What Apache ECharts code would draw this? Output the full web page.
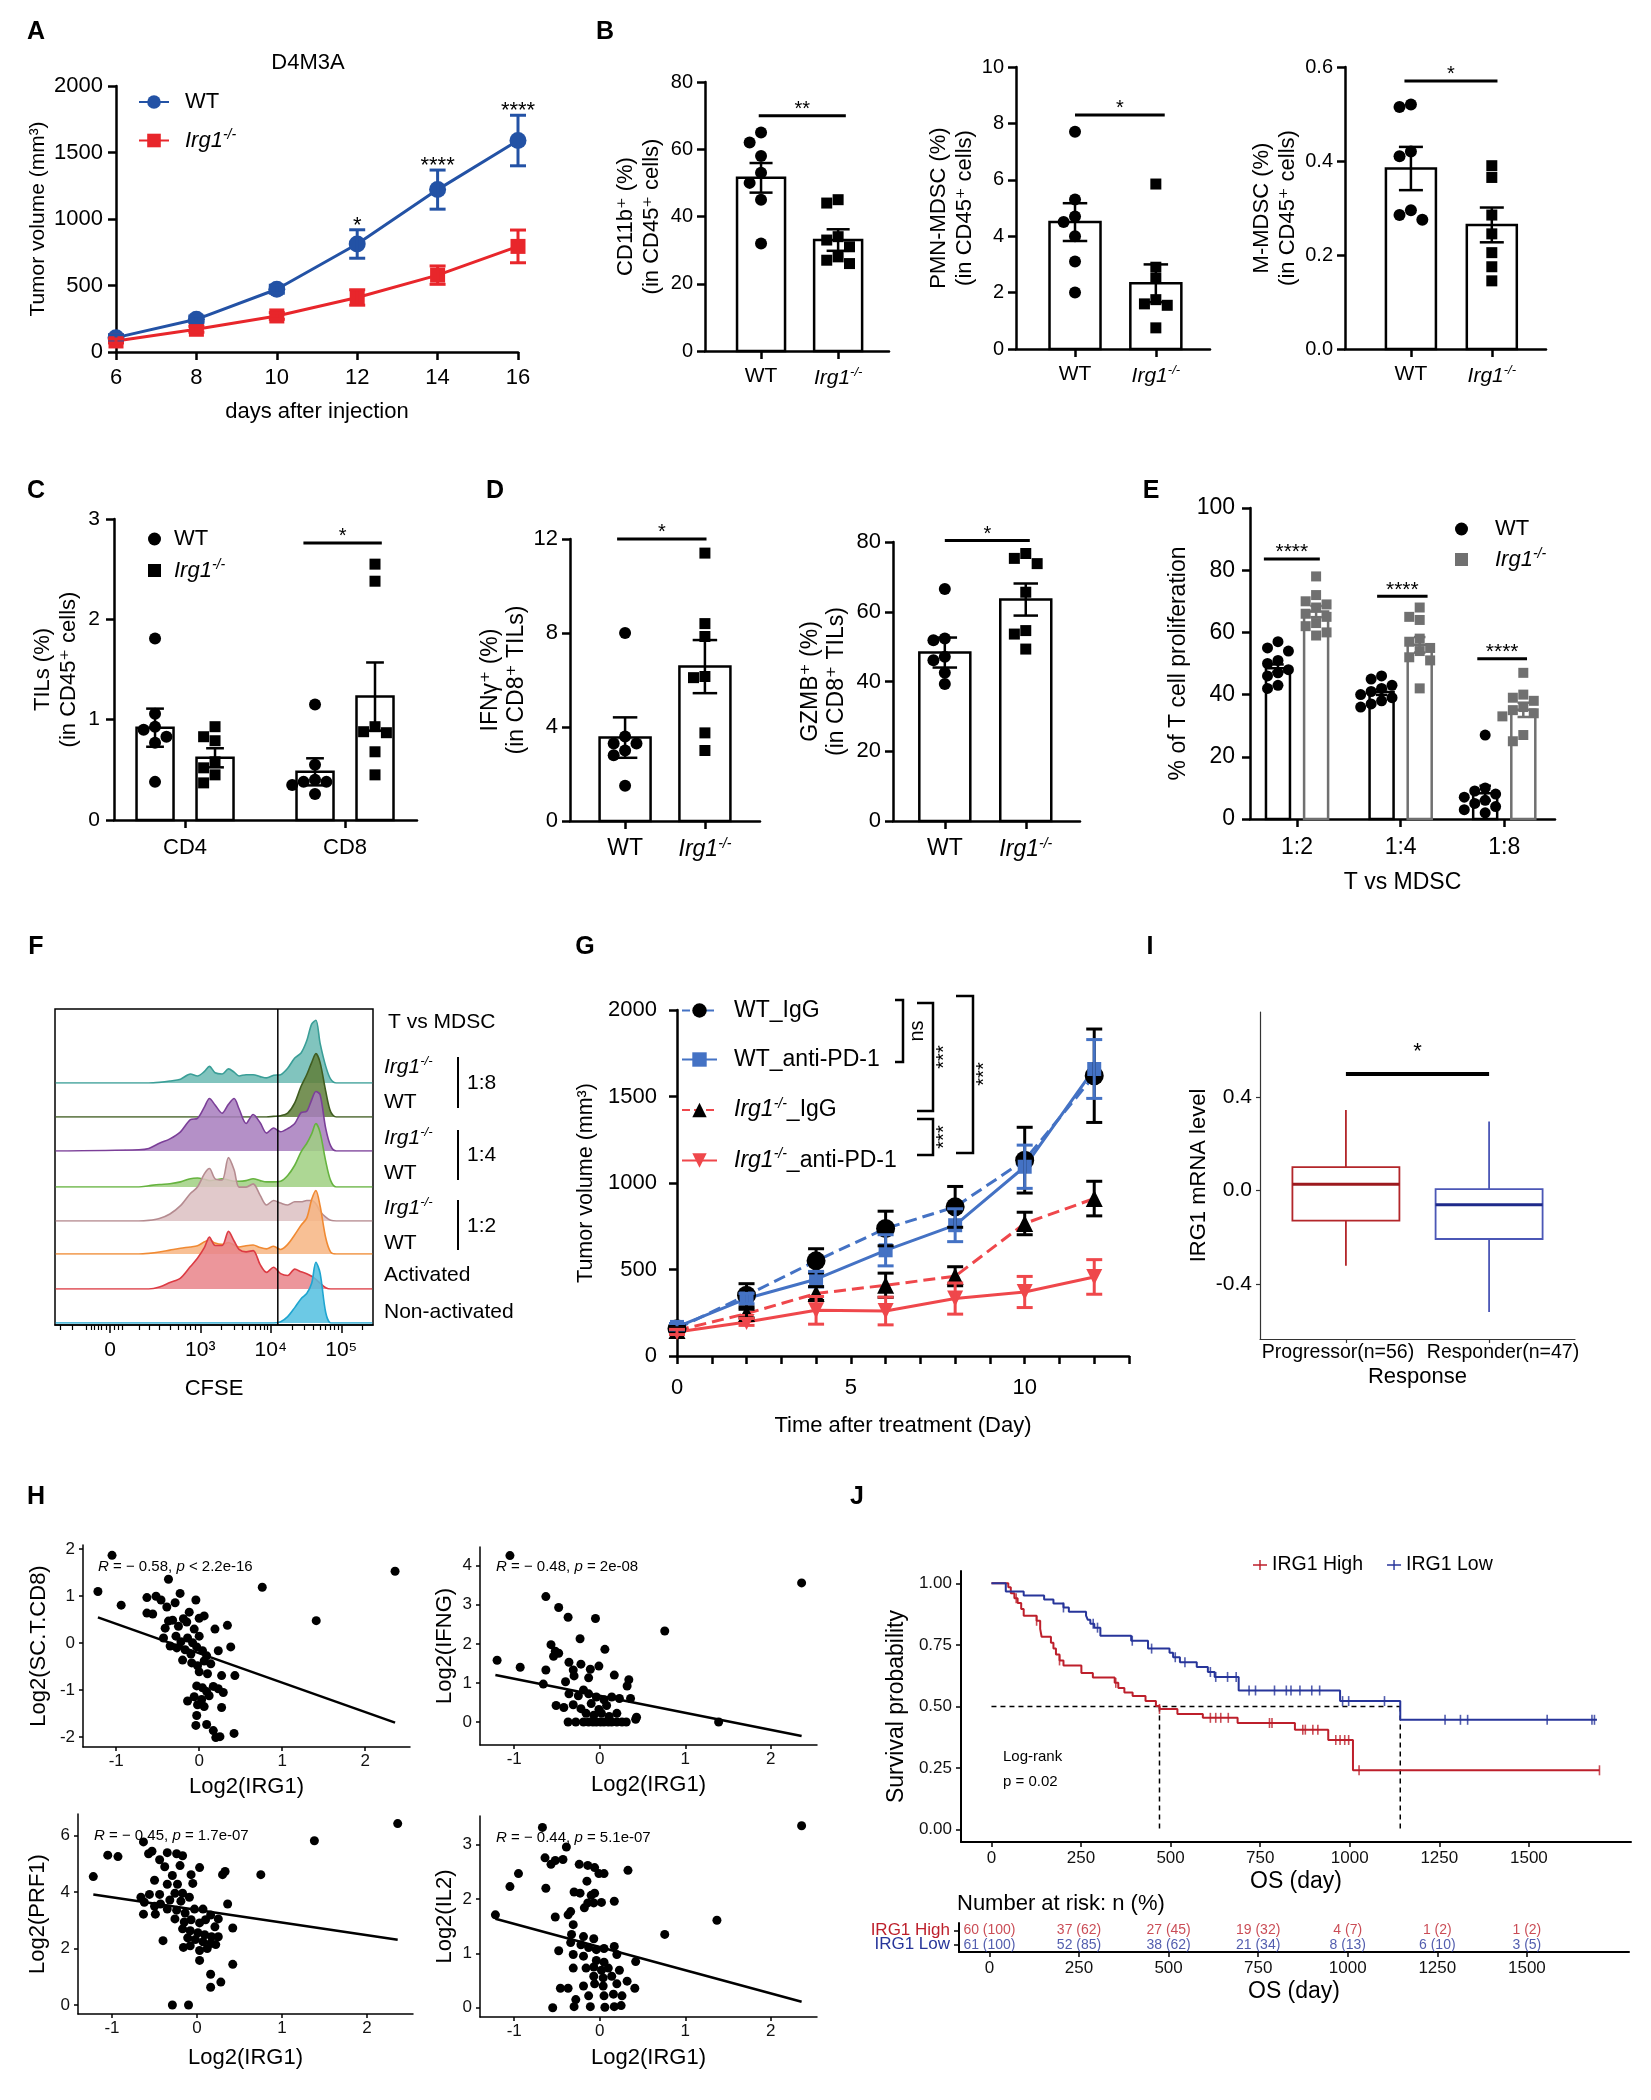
<!DOCTYPE html>
<html>
<head>
<meta charset="utf-8">
<title>IRG1 / MDSC figure</title>
<script src="https://cdn.jsdelivr.net/npm/echarts@6/dist/echarts.min.js"></script>
<style>
  html, body { margin: 0; padding: 0; background: #ffffff; }
  #fig { width: 1651px; height: 2100px; }
</style>
</head>
<body>
<div id="fig"></div>
<script>
// ================= values =================

// A  tumour growth D4M3A (mean, sem)
var daysA = [6, 8, 10, 12, 14, 16];
var wtA = [108, 246, 472, 812, 1221, 1590];
var wtSemA = [22, 25, 30, 107, 147, 190];
var koA = [83, 171, 271, 410, 578, 794];
var koSemA = [15, 22, 25, 58, 69, 123];
var starsA = ['', '', '', '*', '****', '****'];

// B  myeloid cells (in CD45+ cells)
var cd11bWT = [65, 62, 58, 53, 50, 45, 32];
var cd11bKO = [45, 44, 34, 33, 31, 28, 27, 26];
var cd11bMean = [51.5, 33.0];
var cd11bSem = [4.4, 3.2];
var pmnWT = [7.7, 5.3, 4.7, 4.5, 4.0, 3.1, 2.0];
var pmnKO = [5.85, 2.9, 2.5, 1.75, 1.6, 1.55, 0.75];
var pmnMean = [4.5, 2.33];
var pmnSem = [0.67, 0.67];
var mmdscWT = [0.52, 0.515, 0.42, 0.41, 0.295, 0.285, 0.275];
var mmdscKO = [0.39, 0.365, 0.285, 0.245, 0.205, 0.175, 0.145];
var mmdscMean = [0.384, 0.264];
var mmdscSem = [0.046, 0.037];

// C  TILs (in CD45+ cells)
var tilCats = ['CD4', 'CD8'];
var cd4WT = [1.81, 1.06, 0.93, 0.90, 0.83, 0.77, 0.38];
var cd4KO = [0.93, 0.83, 0.79, 0.58, 0.52, 0.45, 0.37];
var cd8WT = [1.15, 0.55, 0.40, 0.38, 0.38, 0.35, 0.26];
var cd8KO = [2.55, 2.38, 0.93, 0.88, 0.87, 0.68, 0.45];
var tilMean = [0.92, 0.62, 0.48, 1.23];
var tilSem = [0.19, 0.095, 0.135, 0.34];

// D  IFNg+ and GZMB+ (in CD8+ TILs)
var ifngWT = [8.0, 3.6, 3.3, 3.3, 3.0, 2.8, 1.5];
var ifngKO = [11.4, 8.4, 7.85, 6.15, 6.1, 3.75, 3.0];
var ifngMean = [3.55, 6.57];
var ifngSem = [0.86, 1.13];
var gzmbWT = [66.5, 52.3, 51.8, 47.1, 46.1, 42.5, 39.3];
var gzmbKO = [76.7, 75.3, 73.8, 65.6, 54.6, 53.6, 49.3];
var gzmbMean = [48.3, 63.5];
var gzmbSem = [4.3, 4.6];

// E  T cell proliferation, T vs MDSC
var ratiosE = ['1:2', '1:4', '1:8'];
var prolWT = [[57, 55, 54, 51, 50, 48, 47, 46, 43, 42],
              [46, 45, 43, 42, 41, 40, 39, 38, 37, 36],
              [27, 10, 9, 8, 7, 6, 5, 4, 3, 2]];
var prolKO = [[78, 72, 70, 69, 68, 66, 65, 63, 62, 60, 59],
              [68, 65, 64, 58, 57, 55, 54, 52, 51, 42],
              [47, 40, 39, 38, 36, 35, 34, 33, 27, 25]];
var prolMeanWT = [48.5, 40.8, 8.3];
var prolSemWT = [1.2, 0.9, 2.4];
var prolMeanKO = [66.7, 56.0, 35.1];
var prolSemKO = [1.8, 2.5, 2.3];

// F  CFSE histograms (x = display position in decades, y = % of mode)
var cfsePos = [0.95, 2.13, 2.27, 2.42, 2.57, 2.72, 2.86, 2.96, 3.06, 3.13, 3.21, 3.31, 3.40, 3.48, 3.55, 3.65,
               3.75, 3.85, 3.94, 4.04, 4.14, 4.24, 4.34, 4.43, 4.51, 4.58, 4.64, 4.70, 4.78, 4.85, 4.93, 5.44];
var histKO18 = [0, 0, 0, 1, 3, 6, 14, 11, 18, 26, 16, 14, 22, 17, 11, 13, 13, 10, 8, 12, 13, 23, 39, 47, 66, 92, 98, 62, 26, 6, 0, 0];
var histWT18 = [0, 0, 0, 0, 0, 0, 0, 0, 0, 0, 0, 0, 0, 0, 0, 0, 0, 0, 0, 1, 2, 6, 22, 48, 66, 85, 99, 85, 40, 8, 0, 0];
var histKO14 = [0, 2, 4, 12, 19, 30, 49, 51, 69, 82, 72, 59, 73, 82, 66, 43, 57, 44, 28, 36, 30, 35, 43, 60, 62, 80, 93, 88, 35, 8, 0, 0];
var histWT14 = [0, 0, 2, 4, 5, 8, 13, 14, 12, 10, 11, 13, 11, 9, 9, 10, 13, 10, 8, 8, 9, 18, 34, 55, 68, 83, 99, 85, 40, 10, 0, 0];
var histKO12 = [0, 0, 1, 4, 11, 24, 43, 53, 74, 82, 66, 64, 99, 80, 53, 53, 58, 40, 25, 32, 28, 25, 30, 30, 32, 32, 27, 15, 6, 1, 0, 0];
var histWT12 = [0, 0, 1, 3, 6, 9, 11, 13, 19, 22, 17, 15, 18, 14, 11, 13, 14, 10, 8, 12, 7, 15, 30, 45, 56, 85, 99, 75, 25, 3, 0, 0];
var histAct = [0, 0, 0, 3, 10, 17, 35, 48, 65, 81, 68, 68, 90, 75, 62, 58, 60, 38, 26, 34, 24, 21, 31, 27, 24, 20, 15, 9, 2, 0, 0, 0];
var histNon = [0, 0, 0, 0, 0, 0, 0, 0, 0, 0, 0, 0, 0, 0, 0, 0, 0, 0, 0, 0, 2, 10, 24, 38, 46, 62, 95, 78, 16, 0, 0, 0];
var cfseGate = 4.1;

// G  anti-PD-1 treatment
var daysG = [0, 2, 4, 6, 8, 10, 12];
var wtIgG = [158, 351, 550, 737, 862, 1132, 1620];
var wtIgGSem = [20, 67, 70, 100, 118, 190, 270];
var wtPD1 = [168, 332, 444, 611, 756, 1094, 1659];
var wtPD1Sem = [20, 30, 45, 90, 95, 125, 170];
var koIgG = [148, 245, 361, 409, 461, 766, 910];
var koIgGSem = [15, 25, 40, 70, 55, 65, 100];
var koPD1 = [139, 197, 264, 260, 332, 370, 457];
var koPD1Sem = [15, 20, 80, 80, 90, 90, 100];

// H  correlations with Log2(IRG1)
var hCd8 = [[-1.05,1.87],[-1.22,1.10],[-0.94,0.81],[-0.37,1.36],[2.36,1.53],[0.76,1.19],[1.41,0.48],[-0.63,0.97],
  [-0.52,1.0],[-0.46,0.92],[-0.63,0.64],[-0.56,0.62],[-0.39,0.77],[-0.29,0.86],[-0.23,1.06],[-0.04,0.92],[-0.12,0.66],
  [-0.37,0.47],[-0.32,0.49],[-0.41,0.32],[-0.25,0.36],[-0.19,0.52],[-0.15,0.45],[-0.06,0.30],[0.0,0.53],[0.06,0.58],
  [0.19,0.30],[0.34,0.38],[-0.43,0.11],[-0.28,0.15],[-0.22,0.03],[-0.14,0.11],[-0.08,0.01],[0.0,0.15],[-0.35,-0.06],
  [-0.27,-0.10],[-0.17,-0.14],[-0.10,-0.23],[-0.03,-0.08],[0.04,-0.16],[0.09,-0.27],[0.23,-0.16],[0.38,-0.08],
  [-0.20,-0.36],[-0.09,-0.42],[-0.02,-0.48],[0.06,-0.38],[0.14,-0.44],[0.0,-0.61],[0.10,-0.65],[0.27,-0.69],
  [0.43,-0.69],[-0.03,-0.91],[0.04,-0.95],[0.09,-1.03],[0.17,-0.92],[0.23,-0.97],[0.29,-1.05],[-0.06,-1.14],
  [-0.14,-1.23],[0.03,-1.20],[0.12,-1.12],[-0.02,-1.31],[0.06,-1.35],[0.27,-1.37],[-0.03,-1.54],[-0.04,-1.75],
  [0.09,-1.73],[0.17,-1.86],[0.20,-2.01],[0.25,-1.99],[0.42,-1.92]];
var hCd8Fit = [[-1.22, 0.55], [2.36, -1.69]];
var hIfng = [[-1.05,4.26],[2.36,3.56],[-0.63,3.21],[-0.48,2.93],[-0.37,2.68],[-0.05,2.65],[0.76,2.33],[-0.23,2.13],
  [-1.20,1.58],[-0.93,1.40],[-0.57,1.98],[-0.52,1.81],[-0.48,1.76],[-0.54,1.68],[0.06,1.86],[-0.63,1.33],[-0.36,1.53],
  [-0.22,1.48],[-0.31,1.33],[-0.11,1.35],[-0.01,1.43],[0.17,1.20],[0.34,1.08],[0.32,0.92],[-0.66,0.97],[-0.40,1.03],
  [-0.30,1.18],[-0.13,1.13],[-0.19,0.82],[-0.36,0.72],[-0.25,0.67],[-0.13,0.72],[-0.04,0.64],[0.05,0.57],[0.14,0.64],
  [0.23,0.60],[0.36,0.60],[-0.51,0.42],[-0.42,0.37],[-0.31,0.44],[-0.22,0.34],[-0.10,0.47],[-0.01,0.32],[0.08,0.42],
  [-0.16,0.22],[-0.07,0.17],[0.02,0.22],[0.11,0.14],[0.20,0.22],[0.43,0.12],[0.42,0.07],[-0.37,0],[-0.28,0],
  [-0.19,0],[-0.13,0],[-0.08,0],[-0.04,0],[0.01,0],[0.05,0],[0.10,0],[0.14,0],[0.20,0],[0.26,0],[0.31,0],[1.39,0]];
var hIfngFit = [[-1.22, 1.20], [2.36, -0.36]];
var hPrf1 = [[2.36,6.43],[1.38,5.82],[0.75,4.62],[-1.22,4.55],[-1.05,5.31],[-0.93,5.26],[-0.63,5.78],[-0.57,5.36],
  [-0.53,5.45],[-0.44,5.15],[-0.35,5.40],[-0.24,5.36],[-0.17,5.29],[-0.20,4.94],[-0.38,4.90],[-0.50,4.42],[-0.29,4.59],
  [-0.35,4.28],[-0.23,4.28],[-0.07,4.62],[0.03,4.87],[-0.05,4.31],[0.30,4.62],[0.33,4.73],[-0.09,3.82],[-0.17,3.96],
  [-0.26,3.96],[-0.44,3.92],[-0.56,3.92],[-0.66,3.82],[-0.32,3.72],[-0.43,3.58],[-0.50,3.50],[-0.62,3.64],[-0.19,3.68],
  [-0.35,3.40],[-0.24,3.36],[-0.14,3.26],[-0.03,3.40],[0.07,3.40],[0.16,3.19],[0.25,3.05],[0.36,3.58],[-0.63,3.22],
  [-0.49,3.22],[-0.26,3.05],[-0.15,2.94],[-0.07,3.02],[0.03,2.91],[0.10,3.02],[0.21,2.77],[0.42,2.73],[-0.17,2.70],
  [-0.08,2.63],[0.01,2.56],[0.09,2.49],[0.17,2.42],[0.25,2.42],[-0.11,2.38],[-0.02,2.32],[0.07,2.24],[0.16,2.18],
  [-0.40,2.28],[-0.16,2.04],[-0.08,2.10],[0.03,1.93],[0.12,2.00],[0.22,2.14],[0.03,1.58],[0.16,1.09],[0.28,0.81],
  [0.16,0.63],[0.42,1.44],[-0.29,0],[-0.10,0]];
var hPrf1Fit = [[-1.22, 3.92], [2.36, 2.31]];
var hIl2 = [[2.36,3.35],[-0.67,3.32],[-0.39,2.96],[-0.64,2.76],[-0.52,2.71],[-0.43,2.73],[-0.57,2.64],[-0.24,2.64],
  [-0.14,2.62],[-0.06,2.58],[-0.01,2.47],[0.05,2.47],[0.33,2.53],[-0.95,2.47],[-1.05,2.23],[-0.15,2.33],[-0.63,2.20],
  [-0.30,2.13],[-0.23,2.11],[-0.10,2.07],[-0.06,2.11],[-0.14,1.93],[-0.18,1.84],[-0.07,1.93],[0.02,1.94],[0.17,1.96],
  [-0.37,1.71],[-0.34,1.77],[-0.52,1.67],[1.37,1.61],[-1.22,1.71],[0.76,1.35],[-0.31,1.53],[-0.33,1.35],[-0.19,1.31],
  [-0.07,1.27],[-0.34,1.20],[-0.22,1.16],[-0.13,1.11],[-0.04,1.07],[0.05,1.09],[0.17,1.13],[-0.48,1.05],[-0.31,0.98],
  [-0.19,0.95],[0.20,0.98],[0.42,0.85],[-0.04,0.87],[0.05,0.84],[-0.31,0.73],[-0.16,0.73],[-0.07,0.75],[0.02,0.69],
  [0.10,0.73],[0.23,0.69],[-0.07,0.58],[0.04,0.55],[0.14,0.58],[0.32,0.49],[-0.19,0.40],[-0.06,0.44],[0.04,0.40],
  [0.20,0.44],[-0.46,0.36],[-0.37,0.36],[0.41,0.36],[-0.13,0.22],[0.05,0.22],[0.16,0.25],[0.26,0.22],[-0.28,0.15],
  [-0.55,0],[-0.30,0.02],[-0.11,0.02],[0.06,0.01],[0.17,0.02],[0.25,0.04]];
var hIl2Fit = [[-1.22, 1.64], [2.36, 0.11]];

// I  IRG1 mRNA by response: [min, Q1, median, Q3, max]
var responseCats = ['Progressor(n=56)', 'Responder(n=47)'];
var progressorBox = [-0.321, -0.129, 0.027, 0.0995, 0.344];
var responderBox = [-0.519, -0.207, -0.061, 0.006, 0.294];

// J  overall survival (Kaplan-Meier steps: [day, survival after the step])
var kmHigh = [[0,1],[47,0.984],[54,0.960],[64,0.939],[73,0.920],[83,0.896],[90,0.868],[126,0.848],[136,0.815],
  [140,0.783],[166,0.759],[173,0.735],[180,0.711],[190,0.687],[201,0.666],[251,0.636],[283,0.618],[344,0.596],
  [354,0.575],[371,0.557],[394,0.543],[430,0.522],[459,0.502],[469,0.490],[519,0.470],[590,0.454],[687,0.433],
  [847,0.406],[940,0.364],[1009,0.241],[1697,0.241]];
var kmLow = [[0,1],[40,0.967],[90,0.951],[147,0.934],[173,0.918],[201,0.902],[216,0.885],[264,0.869],[269,0.852],
  [276,0.836],[287,0.820],[304,0.787],[390,0.767],[437,0.735],[497,0.718],[507,0.700],[526,0.680],[573,0.660],
  [604,0.640],[623,0.620],[690,0.565],[973,0.522],[1141,0.446],[1690,0.446]];
var censHigh = [69, 126, 190, 347, 469, 611, 626, 640, 661, 776, 783, 869, 876, 897, 911, 961, 973, 986, 997, 1026, 1697];
var censLow = [201, 284, 296, 393, 447, 513, 540, 611, 626, 659, 683, 719, 737, 790, 823, 836, 861, 894, 916, 980, 997,
  1097, 1266, 1309, 1329, 1551, 1676, 1683];
var medianHigh = 469;
var medianLow = 1141;
var riskTimes = [0, 250, 500, 750, 1000, 1250, 1500];
var riskHigh = ['60 (100)', '37 (62)', '27 (45)', '19 (32)', '4 (7)', '1 (2)', '1 (2)'];
var riskLow = ['61 (100)', '52 (85)', '38 (62)', '21 (34)', '8 (13)', '6 (10)', '3 (5)'];

// ================= helpers =================
var FONT = "'Liberation Sans', Arial, 'DejaVu Sans', sans-serif";
var KO = '{i|Irg1}{s|-/-}';
var grids = [], xAxes = [], yAxes = [], series = [], legends = [], graphics = [];

function koRich(size) {
  return {
    i: {fontStyle: 'italic', fontSize: size, fontFamily: FONT, color: '#000', lineHeight: size + 3},
    s: {fontStyle: 'italic', fontSize: Math.round(size * 0.62), fontFamily: FONT, color: '#000', verticalAlign: 'top', lineHeight: size + 3}
  };
}
function merge(a, b) {
  var out = {};
  [a, b].forEach(function (src) {
    if (!src) return;
    Object.keys(src).forEach(function (k) {
      var v = src[k];
      if (v && typeof v === 'object' && !Array.isArray(v) && out[k] && typeof out[k] === 'object' && !Array.isArray(out[k])) {
        out[k] = merge(out[k], v);
      } else {
        out[k] = v;
      }
    });
  });
  return out;
}
function zip(xs, ys) { return xs.map(function (x, i) { return [x, ys[i]]; }); }
function plain(v) { return String(v); }   // no thousands separator

// GraphPad look
function gpAxis(o) {
  return merge({
    type: 'value', splitLine: {show: false},
    axisLine: {show: true, onZero: false, lineStyle: {color: '#000', width: 2.5}},
    axisTick: {show: true, length: 8, lineStyle: {color: '#000', width: 2.5}},
    axisLabel: {color: '#000', fontFamily: FONT, fontSize: 21, margin: 12, formatter: plain,
      hideOverlap: false, showMinLabel: true, showMaxLabel: true},
    nameLocation: 'middle',
    nameTextStyle: {color: '#000', fontFamily: FONT, fontSize: 21, lineHeight: 24}
  }, o);
}
// ggplot classic look
function ggAxis(o) {
  return merge({
    type: 'value', splitLine: {show: false},
    axisLine: {show: true, onZero: false, lineStyle: {color: '#000', width: 1.5}},
    axisTick: {show: true, length: 4, lineStyle: {color: '#000', width: 1.5}},
    axisLabel: {color: '#111', fontFamily: FONT, fontSize: 17, margin: 6, formatter: plain,
      hideOverlap: false, showMinLabel: true, showMaxLabel: true},
    nameLocation: 'middle',
    nameTextStyle: {color: '#000', fontFamily: FONT, fontSize: 22, lineHeight: 26}
  }, o);
}
function hidden(o) { return merge({type: 'value', show: false, splitLine: {show: false}}, o); }

function addGrid(l, t, w, h, xa, ya) {
  var gi = grids.length;
  grids.push({left: l, top: t, width: w, height: h, containLabel: false, outerBoundsMode: 'none'});
  xa.gridIndex = gi; ya.gridIndex = gi;
  xAxes.push(xa); yAxes.push(ya);
  return {g: gi, x: xAxes.length - 1, y: yAxes.length - 1};
}

function txtStyle(text, size, align, va, extra) {
  return merge({text: text, fontFamily: FONT, fontSize: size, fill: '#000',
    align: align, verticalAlign: va, textAlign: align, textVerticalAlign: va}, extra);
}
function gText(x, y, text, o) {
  o = o || {};
  graphics.push({type: 'text', x: x, y: y, rotation: o.rot || 0, z: 100, silent: true,
    style: txtStyle(text, o.size || 21, o.align || 'left', o.va || 'middle',
      {fontWeight: o.weight || 'normal', fill: o.color || '#000', rich: o.rich})});
}
function gLine(points, w) {
  graphics.push({type: 'polyline', z: 100, silent: true, shape: {points: points},
    style: {stroke: '#000', lineWidth: w || 2.5, fill: null}});
}

// beeswarm-like horizontal spreading of the dots in one column
function swarm(vals, cx, dx, tol) {
  var placed = [], out = new Array(vals.length);
  var order = vals.map(function (v, i) { return i; }).sort(function (a, b) { return vals[b] - vals[a]; });
  order.forEach(function (i) {
    var v = vals[i], offs = [0, -1, 1, -2, 2, -3, 3], x = cx;
    for (var k = 0; k < offs.length; k++) {
      var cand = cx + offs[k] * dx;
      var hit = placed.some(function (p) { return Math.abs(p[0] - cand) < dx * 0.99 && Math.abs(p[1] - v) < tol; });
      if (!hit) { x = cand; break; }
    }
    placed.push([x, v]);
    out[i] = [x, v];
  });
  return out;
}

function addBars(ax, items, bw, lw) {
  series.push({type: 'custom', xAxisIndex: ax.x, yAxisIndex: ax.y, z: 2, silent: true, clip: false,
    data: items.map(function (d) { return [d[0], d[1]]; }),
    renderItem: function (p, api) {
      var top = api.coord([api.value(0), api.value(1)]), base = api.coord([api.value(0), 0]);
      return {type: 'rect', shape: {x: top[0] - bw / 2, y: top[1], width: bw, height: base[1] - top[1]},
        style: {fill: '#fff', stroke: items[p.dataIndex][2], lineWidth: lw}};
    }});
}
// items: [x, low, high, colour]
function addErr(ax, items, cap, lw, z) {
  series.push({type: 'custom', xAxisIndex: ax.x, yAxisIndex: ax.y, z: z || 4, silent: true, clip: false,
    data: items.map(function (d) { return [d[0], d[1], d[2]]; }),
    renderItem: function (p, api) {
      var col = items[p.dataIndex][3];
      var hi = api.coord([api.value(0), api.value(2)]), lo = api.coord([api.value(0), api.value(1)]);
      var st = {stroke: col, lineWidth: lw};
      return {type: 'group', children: [
        {type: 'line', shape: {x1: hi[0], y1: hi[1], x2: lo[0], y2: lo[1]}, style: st},
        {type: 'line', shape: {x1: hi[0] - cap, y1: hi[1], x2: hi[0] + cap, y2: hi[1]}, style: st},
        {type: 'line', shape: {x1: lo[0] - cap, y1: lo[1], x2: lo[0] + cap, y2: lo[1]}, style: st}]};
    }});
}
// sigs: [x1, x2, y, text]
function addSig(ax, sigs, o) {
  series.push({type: 'custom', xAxisIndex: ax.x, yAxisIndex: ax.y, z: 5, silent: true, clip: false,
    data: sigs.map(function (s) { return [s[0], s[2], s[1]]; }),
    renderItem: function (p, api) {
      var a = api.coord([api.value(0), api.value(1)]), b = api.coord([api.value(2), api.value(1)]);
      return {type: 'group', children: [
        {type: 'line', shape: {x1: a[0], y1: a[1], x2: b[0], y2: b[1]}, style: {stroke: '#000', lineWidth: o.lw}},
        {type: 'text', x: (a[0] + b[0]) / 2, y: a[1] - o.off + 0.27 * o.size,
          style: txtStyle(sigs[p.dataIndex][3], o.size, 'center', 'middle')}]};
    }});
}

// bar + dots + sem panel
function dotBar(p) {
  var fs = p.fs || 21;
  var xa = gpAxis({min: p.xr[0], max: p.xr[1],
    axisTick: {customValues: p.ticks},
    axisLabel: {customValues: p.ticks, margin: p.xMargin || 15, fontSize: p.xfs || fs, rich: koRich(p.xfs || fs),
      formatter: function (v) { return p.tickText[p.ticks.indexOf(v)]; }},
    name: p.xName || '', nameGap: p.xGap || 50, nameTextStyle: {fontSize: p.nfs || 22, lineHeight: 26}});
  var ya = gpAxis({min: p.yr[0], max: p.yr[1], interval: p.yStep,
    axisLabel: {fontSize: fs, margin: p.yMargin || 12, formatter: p.yFmt || plain},
    name: p.yName, nameGap: p.yGap, nameTextStyle: {fontSize: p.nfs || 22, lineHeight: 26}});
  var ax = addGrid(p.box[0], p.box[1], p.box[2], p.box[3], xa, ya);
  var pxX = p.box[2] / (p.xr[1] - p.xr[0]), pxY = p.box[3] / (p.yr[1] - p.yr[0]);
  var bars = [], errs = [];
  p.groups.forEach(function (g) {
    bars.push([g.x, g.mean, g.color]);
    errs.push([g.x, g.mean - g.sem, g.mean + g.sem, g.color]);
    series.push({type: 'scatter', name: g.name, xAxisIndex: ax.x, yAxisIndex: ax.y, z: 3, silent: true,
      symbol: g.symbol, symbolSize: g.symbol === 'rect' ? p.dot - 1 : p.dot, itemStyle: {color: g.color, opacity: 1},
      data: swarm(g.vals, g.x, p.dot * 0.95 / pxX, p.dot * 0.9 / pxY)});
  });
  addBars(ax, bars, p.bw, 2.5);
  addErr(ax, errs, p.bw * 0.24, 2.5, 4);
  addSig(ax, p.sigs, {lw: 3, off: 12, size: p.sigSize || 20});
  return ax;
}
function pairGroups(wt, ko, means, sems) {
  return [
    {x: 1, vals: wt, mean: means[0], sem: sems[0], color: '#000', symbol: 'circle'},
    {x: 2, vals: ko, mean: means[1], sem: sems[1], color: '#000', symbol: 'rect'}];
}
var legendText = {
  A_WT: 'WT', A_KO: KO, C_WT: 'WT', C_KO: KO, E_WT: 'WT', E_KO: KO,
  G1: 'WT_IgG', G2: 'WT_anti-PD-1', G3: KO + '_IgG', G4: KO + '_anti-PD-1',
  J_H: 'IRG1 High', J_L: 'IRG1 Low'
};
function legendFmt(name) { return legendText[name]; }

// ================= A =================
var axA = addGrid(116, 86, 402, 266,
  gpAxis({min: 6, max: 16, interval: 2, axisLabel: {fontSize: 22, margin: 15},
    name: 'days after injection', nameGap: 48, nameTextStyle: {fontSize: 22}}),
  gpAxis({min: 0, max: 2000, interval: 500, axisLabel: {fontSize: 22, margin: 13},
    name: 'Tumor volume (mm³)', nameGap: 66}));
series.push({type: 'line', name: 'A_WT', xAxisIndex: axA.x, yAxisIndex: axA.y, z: 3, silent: true,
  data: zip(daysA, wtA), symbol: 'circle', symbolSize: 17,
  lineStyle: {color: '#2352a5', width: 3}, itemStyle: {color: '#2352a5'}});
series.push({type: 'line', name: 'A_KO', xAxisIndex: axA.x, yAxisIndex: axA.y, z: 3, silent: true,
  data: zip(daysA, koA), symbol: 'rect', symbolSize: 15,
  lineStyle: {color: '#e8262b', width: 3}, itemStyle: {color: '#e8262b'}});
addErr(axA, daysA.map(function (d, i) { return [d, wtA[i] - wtSemA[i], wtA[i] + wtSemA[i], '#2352a5']; }), 8, 3, 4);
addErr(axA, daysA.map(function (d, i) { return [d, koA[i] - koSemA[i], koA[i] + koSemA[i], '#e8262b']; }), 8, 3, 4);
(function () {
  var pts = [], txt = [];
  daysA.forEach(function (d, i) { if (starsA[i]) { pts.push([d, wtA[i] + wtSemA[i]]); txt.push(starsA[i]); } });
  series.push({type: 'custom', xAxisIndex: axA.x, yAxisIndex: axA.y, z: 5, silent: true, clip: false, data: pts,
    renderItem: function (p, api) {
      var c = api.coord([api.value(0), api.value(1)]);
      return {type: 'text', x: c[0], y: c[1] - 10 + 0.27 * 22, style: txtStyle(txt[p.dataIndex], 22, 'center', 'middle')};
    }});
})();
legends.push({left: 138, top: 91, orient: 'vertical', padding: 0, itemWidth: 30, itemHeight: 17, itemGap: 15,
  selectedMode: false, data: ['A_WT', 'A_KO'], formatter: legendFmt,
  textStyle: {fontFamily: FONT, fontSize: 22, color: '#000', padding: [0, 0, 0, 11], rich: koRich(22)}});
gText(308, 63, 'D4M3A', {size: 22, align: 'center'});

// ================= B =================
dotBar({box: [705, 82, 184, 269], xr: [0.273, 2.66], yr: [0, 80], yStep: 20, fs: 20, xfs: 21,
  ticks: [1, 2], tickText: ['WT', KO], yName: 'CD11b⁺ (%)\n(in CD45⁺ cells)', yGap: 40,
  groups: pairGroups(cd11bWT, cd11bKO, cd11bMean, cd11bSem), dot: 12, bw: 48,
  sigs: [[0.97, 2.1, 70, '**']]});
dotBar({box: [1016, 67, 194, 282], xr: [0.27, 2.67], yr: [0, 10], yStep: 2, fs: 20, xfs: 21,
  ticks: [1, 2], tickText: ['WT', KO], yName: 'PMN-MDSC (%)\n(in CD45⁺ cells)', yGap: 24,
  groups: pairGroups(pmnWT, pmnKO, pmnMean, pmnSem), dot: 12, bw: 51,
  sigs: [[1.0, 2.11, 8.3, '*']]});
dotBar({box: [1345, 67, 201, 282], xr: [0.185, 2.67], yr: [0, 0.6], yStep: 0.2, fs: 20, xfs: 21,
  yFmt: function (v) { return v.toFixed(1); },
  ticks: [1, 2], tickText: ['WT', KO], yName: 'M-MDSC (%)\n(in CD45⁺ cells)', yGap: 35,
  groups: pairGroups(mmdscWT, mmdscKO, mmdscMean, mmdscSem), dot: 12, bw: 50,
  sigs: [[0.92, 2.07, 0.57, '*']]});

// ================= C =================
dotBar({box: [114, 519, 303, 301], xr: [0.556, 2.45], yr: [0, 3], yStep: 1, fs: 21, xfs: 22,
  ticks: [1, 2], tickText: tilCats, xMargin: 17, yMargin: 14, yName: 'TILs (%)\n(in CD45⁺ cells)', yGap: 32,
  groups: [
    {x: 0.8125, vals: cd4WT, mean: tilMean[0], sem: tilSem[0], color: '#000', symbol: 'circle', name: 'C_WT'},
    {x: 1.1875, vals: cd4KO, mean: tilMean[1], sem: tilSem[1], color: '#000', symbol: 'rect', name: 'C_KO'},
    {x: 1.8125, vals: cd8WT, mean: tilMean[2], sem: tilSem[2], color: '#000', symbol: 'circle'},
    {x: 2.1875, vals: cd8KO, mean: tilMean[3], sem: tilSem[3], color: '#000', symbol: 'rect'}],
  dot: 12, bw: 37, sigs: [[1.74, 2.23, 2.76, '*']]});
legends.push({left: 148, top: 528, orient: 'vertical', padding: 0, itemWidth: 13, itemHeight: 13, itemGap: 8,
  selectedMode: false, data: ['C_WT', 'C_KO'], formatter: legendFmt,
  textStyle: {fontFamily: FONT, fontSize: 22, color: '#000', padding: [0, 0, 0, 8], rich: koRich(22)}});

// ================= D =================
dotBar({box: [570, 539, 190, 282], xr: [0.31, 2.69], yr: [0, 12], yStep: 4, fs: 22, xfs: 23, nfs: 23,
  ticks: [1, 2], tickText: ['WT', KO], xMargin: 16, yName: 'IFNγ⁺ (%)\n(in CD8⁺ TILs)', yGap: 36,
  groups: pairGroups(ifngWT, ifngKO, ifngMean, ifngSem), dot: 12, bw: 51,
  sigs: [[0.9, 2.02, 12.0, '*']]});
dotBar({box: [893, 542, 187, 279], xr: [0.36, 2.67], yr: [0, 80], yStep: 20, fs: 22, xfs: 23, nfs: 23,
  ticks: [1, 2], tickText: ['WT', KO], xMargin: 16, yName: 'GZMB⁺ (%)\n(in CD8⁺ TILs)', yGap: 43,
  groups: pairGroups(gzmbWT, gzmbKO, gzmbMean, gzmbSem), dot: 12, bw: 51,
  sigs: [[1.0, 2.05, 80.4, '*']]});

// ================= E =================
(function () {
  var groups = [];
  ratiosE.forEach(function (r, i) {
    groups.push({x: i + 1 - 0.184, vals: prolWT[i], mean: prolMeanWT[i], sem: prolSemWT[i], color: '#000',
      symbol: 'circle', name: i === 0 ? 'E_WT' : undefined});
    groups.push({x: i + 1 + 0.184, vals: prolKO[i], mean: prolMeanKO[i], sem: prolSemKO[i], color: '#707070',
      symbol: 'rect', name: i === 0 ? 'E_KO' : undefined});
  });
  dotBar({box: [1250, 508, 305, 311], xr: [0.546, 3.49], yr: [0, 100], yStep: 20, fs: 23, nfs: 23,
    ticks: [1, 2, 3], tickText: ratiosE, xMargin: 17, yMargin: 15,
    yName: '% of T cell proliferation', yGap: 58, xName: 'T vs MDSC', xGap: 51,
    groups: groups, dot: 11, bw: 24, sigSize: 21,
    sigs: [[0.68, 1.22, 83.6, '****'], [1.773, 2.26, 71.6, '****'], [2.74, 3.22, 51.5, '****']]});
})();
legends.push({left: 1455, top: 518, orient: 'vertical', padding: 0, itemWidth: 13, itemHeight: 13, itemGap: 7,
  selectedMode: false, data: ['E_WT', 'E_KO'], formatter: legendFmt,
  textStyle: {fontFamily: FONT, fontSize: 22, color: '#000', padding: [0, 0, 0, 22], rich: koRich(22)}});

// ================= F =================
(function () {
  var major = [1.72, 3, 4, 5], majorText = ['0', '10³', '10⁴', '10⁵'];
  var minor = [1.02, 1.19, 1.39, 1.45, 1.5, 1.55, 1.6, 1.66, 1.78, 1.84, 1.89, 2.13, 2.27, 2.42, 2.57, 2.69, 2.79, 2.86, 2.93];
  [3, 4].forEach(function (d) { for (var k = 2; k <= 9; k++) minor.push(d + Math.log10(k)); });
  minor.push(5 + Math.log10(2));
  var frame = addGrid(55, 1009, 318, 316,
    gpAxis({min: 0.94, max: 5.45, position: 'bottom',
      axisLine: {lineStyle: {width: 1.5}}, axisTick: {customValues: major, length: 8, lineStyle: {width: 1.5}},
      axisLabel: {customValues: major, margin: 15, fontSize: 21,
        formatter: function (v) { return majorText[major.indexOf(v)]; }},
      name: 'CFSE', nameGap: 51, nameTextStyle: {fontSize: 22, lineHeight: 26}}),
    hidden({min: 0, max: 1}));
  grids[frame.g].show = true;
  grids[frame.g].borderColor = '#000';
  grids[frame.g].borderWidth = 1.5;
  grids[frame.g].backgroundColor = 'rgba(0,0,0,0)';
  xAxes.push(gpAxis({gridIndex: frame.g, min: 0.94, max: 5.45, position: 'bottom', axisLine: {show: false},
    axisTick: {customValues: minor, length: 5, lineStyle: {width: 1.2}}, axisLabel: {show: false}}));

  var hists = [histKO18, histWT18, histKO14, histWT14, histKO12, histWT12, histAct, histNon];
  var lineCol = ['#3a9e97', '#3f5c20', '#7b3f98', '#66b33f', '#b58b90', '#f08a33', '#dc3b43', '#1fa5d0'];
  var fillCol = ['#6bbab3', '#5f7f3a', '#a77dbd', '#9fd081', '#dcc0c2', '#f7b582', '#e98489', '#52bfe0'];
  var base = [1083, 1117, 1151, 1187, 1221, 1254, 1289, 1323];
  hists.forEach(function (h, i) {
    var ax = addGrid(55, base[i] - 64, 318, 64, hidden({min: 0.94, max: 5.45}), hidden({min: 0, max: 100}));
    series.push({type: 'line', xAxisIndex: ax.x, yAxisIndex: ax.y, z: 2 + i * 0.1, silent: true,
      data: zip(cfsePos, h), smooth: 0.3, symbol: 'none',
      lineStyle: {color: lineCol[i], width: 1.6}, areaStyle: {color: fillCol[i], opacity: 0.85}});
  });
  series.push({type: 'line', xAxisIndex: frame.x, yAxisIndex: frame.y, z: 10, silent: true, symbol: 'none',
    data: [[cfseGate, 0], [cfseGate, 1]], lineStyle: {color: '#000', width: 1.5}});

  var rich = koRich(21);
  gText(388, 1022, 'T vs MDSC', {size: 21});
  [[1067, KO], [1102, 'WT'], [1138, KO], [1173, 'WT'], [1208, KO], [1243, 'WT'], [1275, 'Activated'], [1312, 'Non-activated']]
    .forEach(function (r) { gText(384, r[0], r[1], {size: 21, rich: rich}); });
  [[1057, 1108, 1083, '1:8'], [1130, 1180, 1155, '1:4'], [1200, 1250, 1226, '1:2']].forEach(function (b) {
    gLine([[458, b[0]], [458, b[1]]], 2);
    gText(467, b[2], b[3], {size: 21});
  });
})();

// ================= G =================
var axG = addGrid(677, 1010, 452, 346,
  gpAxis({min: 0, max: 13, interval: 1,
    axisLabel: {fontSize: 22, margin: 21, formatter: function (v) { return v % 5 === 0 ? String(v) : ''; }},
    name: 'Time after treatment (Day)', nameGap: 58, nameTextStyle: {fontSize: 22}}),
  gpAxis({min: 0, max: 2000, interval: 500, axisLabel: {fontSize: 22, margin: 20},
    name: 'Tumor volume (mm³)', nameGap: 79, nameTextStyle: {fontSize: 21.5}}));
(function () {
  var blue = '#4472c4', red = '#ef474b';
  var defs = [
    {name: 'G1', y: wtIgG, sem: wtIgGSem, line: blue, dash: 'dashed', mark: '#000', sym: 'circle', size: 19, err: '#000'},
    {name: 'G2', y: wtPD1, sem: wtPD1Sem, line: blue, dash: 'solid', mark: blue, sym: 'rect', size: 14, err: blue},
    {name: 'G3', y: koIgG, sem: koIgGSem, line: red, dash: 'dashed', mark: '#000', sym: 'triangle', size: 17, err: '#000'},
    {name: 'G4', y: koPD1, sem: koPD1Sem, line: red, dash: 'solid', mark: red, sym: 'triangle', size: 16, err: red, rot: 180}];
  defs.forEach(function (d) {
    series.push({type: 'line', name: d.name, xAxisIndex: axG.x, yAxisIndex: axG.y, z: 3, silent: true,
      data: zip(daysG, d.y), symbol: d.sym, symbolSize: d.size, symbolRotate: d.rot || 0,
      lineStyle: {color: d.line, width: 3, type: d.dash}, itemStyle: {color: d.mark}});
  });
  defs.forEach(function (d) {
    addErr(axG, daysG.map(function (t, i) { return [t, d.y[i] - d.sem[i], d.y[i] + d.sem[i], d.err]; }), 8, 3, 4);
  });
})();
legends.push({left: 681, top: 999, orient: 'vertical', padding: 0, itemWidth: 35, itemHeight: 18, itemGap: 26,
  selectedMode: false, data: ['G1', 'G2', 'G3', 'G4'], formatter: legendFmt,
  textStyle: {fontFamily: FONT, fontSize: 23, color: '#000', padding: [0, 0, 0, 12], rich: koRich(23)}});
gLine([[895, 1000], [903, 1000], [903, 1062], [895, 1062]]);
gText(917, 1031, 'ns', {size: 20, align: 'center', rot: Math.PI / 2});
gLine([[917, 1003], [933, 1003], [933, 1111], [917, 1111]]);
gText(944, 1057, '***', {size: 20, align: 'center', rot: Math.PI / 2});
gLine([[917, 1119], [933, 1119], [933, 1155], [917, 1155]]);
gText(944, 1137, '***', {size: 20, align: 'center', rot: Math.PI / 2});
gLine([[956, 996], [973, 996], [973, 1153], [956, 1153]]);
gText(984, 1074, '***', {size: 20, align: 'center', rot: Math.PI / 2});

// ================= I =================
var axI = addGrid(1260, 1012, 315, 327,
  ggAxis({min: 0.4, max: 2.6, axisLine: {lineStyle: {color: '#333', width: 1.2}},
    axisTick: {customValues: [1, 2], lineStyle: {color: '#333', width: 1.2}},
    axisLabel: {show: false},
    name: 'Response', nameGap: 25}),
  ggAxis({min: -0.634, max: 0.762, axisLine: {lineStyle: {color: '#333', width: 1.2}},
    axisTick: {customValues: [-0.4, 0, 0.4], lineStyle: {color: '#333', width: 1.2}},
    axisLabel: {customValues: [-0.4, 0, 0.4], fontSize: 21, margin: 8, color: '#000',
      formatter: function (v) { return v.toFixed(1); }},
    name: 'IRG1 mRNA level', nameGap: 44}));
// the two group names sit nudged apart under their ticks, as in the original
gText(1338, 1353, responseCats[0], {size: 19.5, align: 'center'});
gText(1503, 1353, responseCats[1], {size: 19.5, align: 'center'});
(function () {
  var boxCol = ['#b3262a', '#4b57b6'], medCol = ['#9c1a1e', '#1e2a8a'];
  series.push({type: 'custom', xAxisIndex: axI.x, yAxisIndex: axI.y, z: 3, silent: true,
    data: [[1].concat(progressorBox), [2].concat(responderBox)],
    renderItem: function (p, api) {
      var x = api.value(0), c = boxCol[p.dataIndex], hw = 53.5;
      var lo = api.coord([x, api.value(1)]), q1 = api.coord([x, api.value(2)]), md = api.coord([x, api.value(3)]),
        q3 = api.coord([x, api.value(4)]), hi = api.coord([x, api.value(5)]);
      var st = {stroke: c, lineWidth: 1.8, fill: null};
      return {type: 'group', children: [
        {type: 'line', shape: {x1: hi[0], y1: hi[1], x2: q3[0], y2: q3[1]}, style: st},
        {type: 'line', shape: {x1: lo[0], y1: lo[1], x2: q1[0], y2: q1[1]}, style: st},
        {type: 'rect', shape: {x: q3[0] - hw, y: q3[1], width: 2 * hw, height: q1[1] - q3[1]}, style: {stroke: c, lineWidth: 1.8, fill: '#fff'}},
        {type: 'line', shape: {x1: md[0] - hw, y1: md[1], x2: md[0] + hw, y2: md[1]}, style: {stroke: medCol[p.dataIndex], lineWidth: 3}}]};
    }});
  addSig(axI, [[1, 2, 0.497, '*']], {lw: 4, off: 28, size: 22});
})();

// ================= H =================
function hPanel(box, yr, yTicks, pts, fit, yName, yGap, xGap) {
  var ax = addGrid(box[0], box[1], box[2], box[3],
    ggAxis({min: -1.40, max: 2.54, axisTick: {customValues: [-1, 0, 1, 2]},
      axisLabel: {customValues: [-1, 0, 1, 2], margin: 6}, name: 'Log2(IRG1)', nameGap: xGap}),
    ggAxis({min: yr[0], max: yr[1], axisTick: {customValues: yTicks},
      axisLabel: {customValues: yTicks, margin: 8}, name: yName, nameGap: yGap}));
  series.push({type: 'scatter', xAxisIndex: ax.x, yAxisIndex: ax.y, z: 3, silent: true,
    data: pts, symbolSize: 9, itemStyle: {color: '#000', opacity: 1}});
  series.push({type: 'line', xAxisIndex: ax.x, yAxisIndex: ax.y, z: 4, silent: true,
    data: fit, symbol: 'none', lineStyle: {color: '#000', width: 2.5}});
}
hPanel([83, 1545, 327, 202], [-2.21, 2.09], [-2, -1, 0, 1, 2], hCd8, hCd8Fit, 'Log2(SC.T.CD8)', 31, 27);
hPanel([480, 1547, 337, 198], [-0.59, 4.48], [0, 1, 2, 3, 4], hIfng, hIfngFit, 'Log2(IFNG)', 22, 27);
hPanel([78, 1814, 335, 200], [-0.32, 6.77], [0, 2, 4, 6], hPrf1, hPrf1Fit, 'Log2(PRF1)', 27, 31);
hPanel([480, 1816, 337, 201], [-0.17, 3.53], [0, 1, 2, 3], hIl2, hIl2Fit, 'Log2(IL2)', 22, 28);
(function () {
  var rich = {it: {fontStyle: 'italic', fontSize: 15, fontFamily: FONT, color: '#000'}};
  gText(98, 1567, '{it|R} = − 0.58, {it|p} < 2.2e-16', {size: 15, rich: rich});
  gText(496, 1567, '{it|R} = − 0.48, {it|p} = 2e-08', {size: 15, rich: rich});
  gText(94, 1836, '{it|R} = − 0.45, {it|p} = 1.7e-07', {size: 15, rich: rich});
  gText(496, 1838, '{it|R} = − 0.44, {it|p} = 5.1e-07', {size: 15, rich: rich});
})();

// ================= J =================
var survTicks = [0, 0.25, 0.5, 0.75, 1];
var axJ = addGrid(961, 1571, 670, 271,
  ggAxis({min: -85, max: 1785, axisLine: {lineStyle: {width: 2}},
    axisTick: {customValues: riskTimes, length: 5}, axisLabel: {customValues: riskTimes, margin: 8},
    name: 'OS (day)', nameGap: 21, nameTextStyle: {fontSize: 23, lineHeight: 28}}),
  ggAxis({min: -0.05, max: 1.05, axisLine: {lineStyle: {width: 2}},
    axisTick: {customValues: survTicks, length: 5},
    axisLabel: {customValues: survTicks, margin: 9, formatter: function (v) { return v.toFixed(2); }},
    name: 'Survival probability', nameGap: 51, nameTextStyle: {fontSize: 23}}));
(function () {
  var RED = '#bd1f2b', BLUE = '#27359a';
  function survAt(steps, t) {
    var s = steps[0][1];
    for (var i = 0; i < steps.length; i++) { if (steps[i][0] <= t) s = steps[i][1]; }
    return s;
  }
  var dash = {color: '#000', width: 1.5, type: [5, 4]};
  [[[0, 0.5], [medianLow, 0.5]], [[medianHigh, 0.5], [medianHigh, 0]], [[medianLow, 0.5], [medianLow, 0]]].forEach(function (seg) {
    series.push({type: 'line', xAxisIndex: axJ.x, yAxisIndex: axJ.y, z: 2, silent: true, symbol: 'none',
      data: seg, lineStyle: dash});
  });
  series.push({type: 'line', name: 'J_H', xAxisIndex: axJ.x, yAxisIndex: axJ.y, z: 3, silent: true, step: 'end',
    symbol: 'none', data: kmHigh, lineStyle: {color: RED, width: 2}, itemStyle: {color: RED}});
  series.push({type: 'line', name: 'J_L', xAxisIndex: axJ.x, yAxisIndex: axJ.y, z: 3, silent: true, step: 'end',
    symbol: 'none', data: kmLow, lineStyle: {color: BLUE, width: 2}, itemStyle: {color: BLUE}});
  series.push({type: 'scatter', xAxisIndex: axJ.x, yAxisIndex: axJ.y, z: 4, silent: true, symbol: 'rect',
    symbolSize: [1.6, 10], itemStyle: {color: RED},
    data: censHigh.map(function (t) { return [t, survAt(kmHigh, t)]; })});
  series.push({type: 'scatter', xAxisIndex: axJ.x, yAxisIndex: axJ.y, z: 4, silent: true, symbol: 'rect',
    symbolSize: [1.6, 10], itemStyle: {color: BLUE},
    data: censLow.map(function (t) { return [t, survAt(kmLow, t)]; })});
  legends.push({left: 1253, top: 1555, orient: 'horizontal', padding: 0, itemWidth: 14, itemHeight: 14, itemGap: 24,
    selectedMode: false, data: ['J_H', 'J_L'], formatter: legendFmt,
    icon: 'path://M0,9H20V11H0ZM9,3H11V17H9Z',
    textStyle: {fontFamily: FONT, fontSize: 19.5, color: '#000'}});
  gText(1003, 1757, 'Log-rank', {size: 15});
  gText(1003, 1782, 'p = 0.02', {size: 15});

  // number at risk table
  gText(957, 1904, 'Number at risk: n (%)', {size: 22});
  var axT = addGrid(959, 1923, 670, 29,
    ggAxis({min: -85, max: 1785, axisLine: {lineStyle: {width: 2}},
      axisTick: {customValues: riskTimes, length: 5}, axisLabel: {customValues: riskTimes, margin: 8},
      name: 'OS (day)', nameGap: 24, nameTextStyle: {fontSize: 23, lineHeight: 28}}),
    ggAxis({type: 'category', data: ['IRG1 Low', 'IRG1 High'], axisLine: {lineStyle: {width: 2}},
      axisTick: {length: 5, alignWithLabel: true, interval: 0},
      axisLabel: {fontSize: 17, margin: 9, interval: 0, formatter: null,
        color: function (v) { return v === 'IRG1 High' ? RED : BLUE; }}}));
  [['IRG1 High', riskHigh, RED], ['IRG1 Low', riskLow, BLUE]].forEach(function (row) {
    series.push({type: 'scatter', xAxisIndex: axT.x, yAxisIndex: axT.y, z: 4, silent: true,
      symbolSize: 0.1, itemStyle: {color: 'rgba(0,0,0,0)'},
      data: riskTimes.map(function (t) { return [t, row[0]]; }),
      label: {show: true, position: 'inside', fontFamily: FONT, fontSize: 14, color: row[2],
        formatter: function (p) { return row[1][p.dataIndex]; }}});
  });
})();

// ================= panel letters =================
[['A', 36, 32], ['B', 605, 32], ['C', 36, 491], ['D', 495, 491], ['E', 1151, 491],
 ['F', 36, 947], ['G', 585, 947], ['I', 1150, 947], ['H', 36, 1497], ['J', 857, 1497]].forEach(function (l) {
  gText(l[1], l[2], l[0], {size: 25, weight: 'bold', align: 'center'});
});

var chart = echarts.init(document.getElementById('fig'), null, {renderer: 'canvas'});
chart.setOption({
  animation: false,
  backgroundColor: '#ffffff',
  grid: grids,
  xAxis: xAxes,
  yAxis: yAxes,
  legend: legends,
  series: series,
  graphic: {elements: graphics}
});
</script>
</body>
</html>
